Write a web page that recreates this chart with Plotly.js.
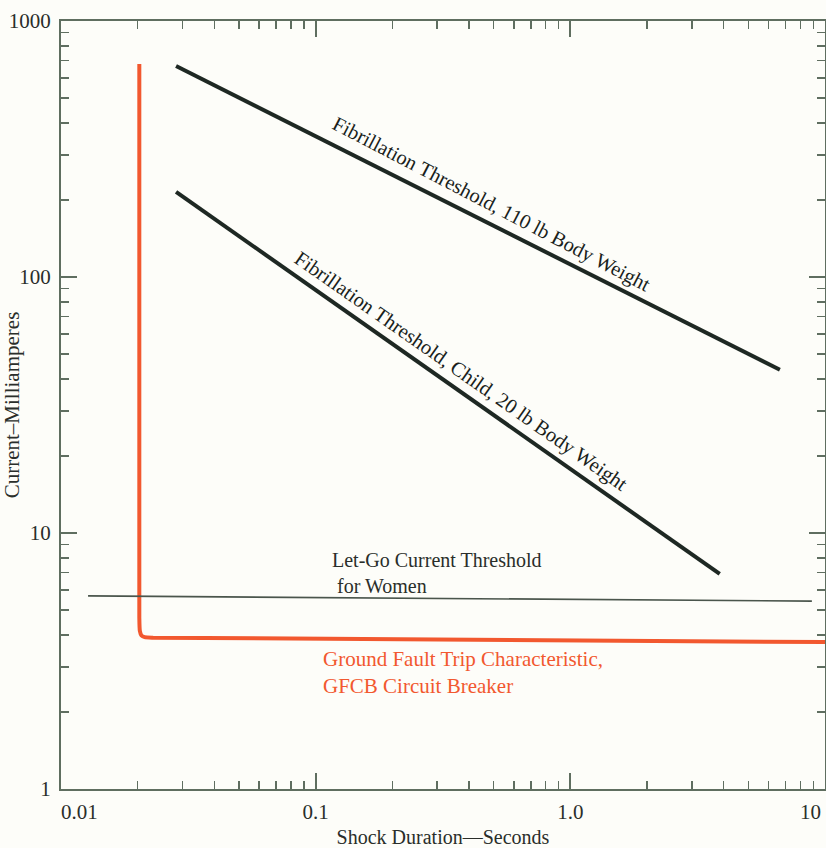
<!DOCTYPE html>
<html><head><meta charset="utf-8">
<script src="https://cdn.plot.ly/plotly-3.0.1.min.js"></script>
<style>body{margin:0;background:#fdfdf9}</style>
</head><body><div id="chart" style="width:826px;height:848px"></div>
<script>
// Fibrillation threshold, 110 lb body weight
const adultX = [0.0283, 6.65];
const adultY = [667, 43.4];
// Fibrillation threshold, child 20 lb
const childX = [0.0283, 3.86];
const childY = [215, 6.92];
// Let-go current threshold for women
const letGoX = [0.01277, 8.88];
const letGoY = [5.68, 5.42];
// Ground fault trip characteristic (GFCB)
const gfcbX = [0.0203, 0.0203, 0.0204, 0.0207, 0.0213, 0.023, 10];
const gfcbY = [680, 4.7, 4.15, 3.98, 3.92, 3.9, 3.75];

const xTickVals = [0.01, 0.1, 1, 10];
const xTickText = ['\u00a0\u00a0\u00a0\u00a0\u00a0\u00a0\u00a00.01', '0.1', '1.0', ''];
const xEdgeLabel = '10';
const yTickVals = [1, 10, 100, 1000];
const yTickText = ['1', '10', '100', '1000'];

const minorVals = [];
for (let d = -3; d <= 4; d++) for (let m = 2; m <= 9; m++) minorVals.push(m * Math.pow(10, d));

const axisColor = '#5f6e60';
const serif = 'Liberation Serif, Times New Roman, serif';
const dark = '#1e2823';
const red = '#f2582f';
const textColor = '#2a2e2a';

const traces = [
  {x: gfcbX, y: gfcbY, mode: 'lines', line: {color: red, width: 4, shape: 'spline', smoothing: 0.6}},
  {x: adultX, y: adultY, mode: 'lines', line: {color: dark, width: 4}},
  {x: childX, y: childY, mode: 'lines', line: {color: dark, width: 4}},
  {x: letGoX, y: letGoY, mode: 'lines', line: {color: '#4a554c', width: 1.6}}
];

const axisCommon = {
  type: 'log', showgrid: false, zeroline: false, showline: true, linecolor: axisColor, linewidth: 2,
  mirror: 'ticks', ticks: 'inside', ticklen: 16, tickwidth: 2, tickcolor: axisColor,
  minor: {tickvals: minorVals, ticks: 'inside', ticklen: 8, tickwidth: 1.5, tickcolor: axisColor},
  tickfont: {family: serif, size: 21, color: textColor},
  automargin: false
};

const layout = {
  width: 826, height: 848,
  margin: {l: 61, r: 1, t: 21, b: 59},
  paper_bgcolor: '#fdfdf9', plot_bgcolor: '#fdfdf9',
  showlegend: false,
  xaxis: Object.assign({}, axisCommon, {
    range: [-2, 1], tickvals: xTickVals, ticktext: xTickText, ticklabelstandoff: 3,
    title: {text: 'Shock Duration\u2014Seconds', font: {family: serif, size: 20, color: textColor}, standoff: 8}
  }),
  yaxis: Object.assign({}, axisCommon, {
    range: [0, 3], tickvals: yTickVals, ticktext: yTickText, ticklabelstandoff: 4,
    title: {text: 'Current\u2013Milliamperes', font: {family: serif, size: 21, color: textColor}, standoff: 0}
  }),
  annotations: [
    {xref: 'paper', yref: 'paper', x: 0.564, y: 0.761, xanchor: 'center', yanchor: 'middle',
     text: 'Fibrillation Threshold, 110 lb Body Weight',
     textangle: 27.5, showarrow: false, font: {family: serif, size: 20.5, color: '#1a1f1c'}},
    {xref: 'paper', yref: 'paper', x: 0.5235, y: 0.543, xanchor: 'center', yanchor: 'middle',
     text: 'Fibrillation Threshold, Child, 20 lb Body Weight',
     textangle: 35, showarrow: false, font: {family: serif, size: 20.5, color: '#1a1f1c'}},
    {xref: 'paper', yref: 'paper', x: 0.352, y: 0.281, xanchor: 'left', yanchor: 'middle', align: 'left',
     text: 'Let-Go Current Threshold<br>\u00a0for Women', showarrow: false, font: {family: serif, size: 20, color: textColor}},
    {xref: 'paper', yref: 'paper', x: 0.340, y: 0.152, xanchor: 'left', yanchor: 'middle', align: 'left',
     text: 'Ground Fault Trip Characteristic,<br>GFCB Circuit Breaker', showarrow: false, font: {family: serif, size: 21, color: red}},
    {xref: 'paper', yref: 'paper', x: 0.997, y: -0.030, xanchor: 'right', yanchor: 'middle',
     text: xEdgeLabel, showarrow: false, font: {family: serif, size: 21, color: textColor}}
  ]
};

Plotly.newPlot('chart', traces, layout, {displayModeBar: false, staticPlot: true});
</script></body></html>
